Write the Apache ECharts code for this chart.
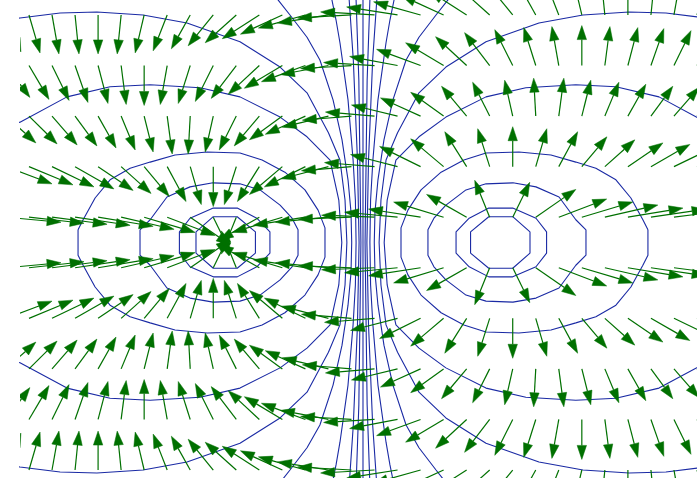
<!DOCTYPE html>
<html>
<head>
<meta charset="utf-8">
<script src="https://cdn.jsdelivr.net/npm/echarts@6/dist/echarts.min.js"></script>
<style>
  html, body { margin: 0; padding: 0; background: #ffffff; }
  #chart { width: 697px; height: 478px; }
</style>
</head>
<body>
<div id="chart"></div>
<script>
// Sample grid of the field (x: columns, y: rows)
const colX = [-15.5,-14.5,-13.5,-12.5,-11.5,-10.5,-9.5,-8.5,-7.5,-6.5,-5.5,-4.5,-3.5,-2.5,-1.5,-0.5,
              0.5,1.5,2.5,3.5,4.5,5.5,6.5,7.5,8.5,9.5,10.5,11.5,12.5,13.5,14.5];
const rowY = [4.5, 3.5, 2.5, 1.5, 0.5, -0.5, -1.5, -2.5, -3.5, -4.5];

// Field vector components per row (u along x, v along y)
const u45 = [0.65,0.48,0.30,0.17,0,-0.17,-0.39,-0.61,-0.82,-1.09,-1.35,-1.61,-1.82,-2.04,-2.21,-2.34,-2.34,-2.21,-2.04,-1.82,-1.61,-1.35,-1.09,-0.82,-0.61,-0.39,-0.17,0,0.17,0.30,0.48];
const v45 = [-0.73,-0.75,-0.77,-0.77,-0.77,-0.77,-0.75,-0.71,-0.67,-0.61,-0.55,-0.47,-0.38,-0.26,-0.16,-0.06,0.06,0.16,0.26,0.38,0.47,0.55,0.61,0.67,0.71,0.75,0.77,0.77,0.77,0.77,0.75];
const u35 = [1.04,0.87,0.74,0.56,0.43,0.22,0,-0.30,-0.52,-0.78,-1.09,-1.35,-1.65,-1.91,-2.08,-2.21,-2.21,-2.08,-1.91,-1.65,-1.35,-1.09,-0.78,-0.52,-0.30,0,0.22,0.43,0.56,0.74,0.87];
const v35 = [-0.63,-0.67,-0.69,-0.73,-0.75,-0.77,-0.79,-0.77,-0.75,-0.71,-0.65,-0.57,-0.45,-0.32,-0.18,-0.06,0.06,0.18,0.32,0.45,0.57,0.65,0.71,0.75,0.77,0.79,0.77,0.75,0.73,0.69,0.67];
const u25 = [1.30,1.22,1.09,0.95,0.78,0.61,0.39,0.22,-0.09,-0.35,-0.74,-1.09,-1.43,-1.74,-2.00,-2.13,-2.13,-2.00,-1.74,-1.43,-1.09,-0.74,-0.35,-0.09,0.22,0.39,0.61,0.78,0.95,1.09,1.22];
const v25 = [-0.53,-0.55,-0.57,-0.59,-0.63,-0.67,-0.71,-0.75,-0.75,-0.71,-0.67,-0.59,-0.47,-0.36,-0.22,-0.08,0.08,0.22,0.36,0.47,0.59,0.67,0.71,0.75,0.75,0.71,0.67,0.63,0.59,0.57,0.55];
const u15 = [2.00,1.91,1.82,1.69,1.52,1.30,1.09,0.82,0.48,0,-0.52,-0.95,-1.43,-1.78,-2.04,-2.17,-2.17,-2.04,-1.78,-1.43,-0.95,-0.52,0,0.48,0.82,1.09,1.30,1.52,1.69,1.82,1.91];
const v15 = [-0.34,-0.36,-0.40,-0.44,-0.47,-0.53,-0.59,-0.69,-0.75,-0.79,-0.75,-0.69,-0.55,-0.40,-0.24,-0.08,0.08,0.24,0.40,0.55,0.69,0.75,0.79,0.75,0.69,0.59,0.53,0.47,0.44,0.40,0.36];
const u05 = [2.39,2.39,2.39,2.39,2.39,2.30,2.21,2.08,1.74,0.74,-0.65,-1.74,-2.17,-2.26,-2.30,-2.30,-2.30,-2.30,-2.26,-2.17,-1.74,-0.65,0.74,1.74,2.08,2.21,2.30,2.39,2.39,2.39,2.39];
const v05 = [-0.10,-0.12,-0.14,-0.16,-0.18,-0.24,-0.30,-0.36,-0.55,-0.69,-0.73,-0.45,-0.30,-0.16,-0.10,-0.04,0.04,0.10,0.16,0.30,0.45,0.73,0.69,0.55,0.36,0.30,0.24,0.18,0.16,0.14,0.12];
const um05 = [2.39,2.39,2.39,2.39,2.39,2.30,2.21,2.08,1.74,0.74,-0.65,-1.74,-2.17,-2.26,-2.30,-2.30,-2.30,-2.30,-2.26,-2.17,-1.74,-0.65,0.74,1.74,2.08,2.21,2.30,2.39,2.39,2.39,2.39];
const vm05 = [0.10,0.12,0.14,0.16,0.18,0.24,0.30,0.36,0.55,0.69,0.73,0.45,0.30,0.16,0.10,0.04,-0.04,-0.10,-0.16,-0.30,-0.45,-0.73,-0.69,-0.55,-0.36,-0.30,-0.24,-0.18,-0.16,-0.14,-0.12];
const um15 = [2.00,1.91,1.82,1.69,1.52,1.30,1.09,0.82,0.48,0,-0.52,-0.95,-1.43,-1.78,-2.04,-2.17,-2.17,-2.04,-1.78,-1.43,-0.95,-0.52,0,0.48,0.82,1.09,1.30,1.52,1.69,1.82,1.91];
const vm15 = [0.34,0.36,0.40,0.44,0.47,0.53,0.59,0.69,0.75,0.79,0.75,0.69,0.55,0.40,0.24,0.08,-0.08,-0.24,-0.40,-0.55,-0.69,-0.75,-0.79,-0.75,-0.69,-0.59,-0.53,-0.47,-0.44,-0.40,-0.36];
const um25 = [1.30,1.22,1.09,0.95,0.78,0.61,0.39,0.22,-0.09,-0.35,-0.74,-1.09,-1.43,-1.74,-2.00,-2.13,-2.13,-2.00,-1.74,-1.43,-1.09,-0.74,-0.35,-0.09,0.22,0.39,0.61,0.78,0.95,1.09,1.22];
const vm25 = [0.53,0.55,0.57,0.59,0.63,0.67,0.71,0.75,0.75,0.71,0.67,0.59,0.47,0.36,0.22,0.08,-0.08,-0.22,-0.36,-0.47,-0.59,-0.67,-0.71,-0.75,-0.75,-0.71,-0.67,-0.63,-0.59,-0.57,-0.55];
const um35 = [1.04,0.87,0.74,0.56,0.43,0.22,0,-0.30,-0.52,-0.78,-1.09,-1.35,-1.65,-1.91,-2.08,-2.21,-2.21,-2.08,-1.91,-1.65,-1.35,-1.09,-0.78,-0.52,-0.30,0,0.22,0.43,0.56,0.74,0.87];
const vm35 = [0.63,0.67,0.69,0.73,0.75,0.77,0.79,0.77,0.75,0.71,0.65,0.57,0.45,0.32,0.18,0.06,-0.06,-0.18,-0.32,-0.45,-0.57,-0.65,-0.71,-0.75,-0.77,-0.79,-0.77,-0.75,-0.73,-0.69,-0.67];
const um45 = [0.65,0.48,0.30,0.17,0,-0.17,-0.39,-0.61,-0.82,-1.09,-1.35,-1.61,-1.82,-2.04,-2.21,-2.34,-2.34,-2.21,-2.04,-1.82,-1.61,-1.35,-1.09,-0.82,-0.61,-0.39,-0.17,0,0.17,0.30,0.48];
const vm45 = [0.73,0.75,0.77,0.77,0.77,0.77,0.75,0.71,0.67,0.61,0.55,0.47,0.38,0.26,0.16,0.06,-0.06,-0.16,-0.26,-0.38,-0.47,-0.55,-0.61,-0.67,-0.71,-0.75,-0.77,-0.77,-0.77,-0.77,-0.75];

// Equipotential contours, left charge family
const left1 = [[-7.25,0.21],[-6.5,0.51],[-5.46,0.51],[-4.67,0.21],[-4.67,-0.21],[-5.46,-0.51],[-6.5,-0.51],[-7.25,-0.21],[-7.25,0.21]];
const left2 = [[-7.97,0.21],[-7.51,0.48],[-6.5,0.68],[-5.46,0.68],[-4.61,0.48],[-4.04,0.21],[-4.04,-0.21],[-4.61,-0.48],[-5.46,-0.68],[-6.5,-0.68],[-7.51,-0.48],[-7.97,-0.21],[-7.97,0.21]];
const left3 = [[-9.68,0.25],[-9.24,0.45],[-8.51,0.9],[-7.51,1.1],[-6.51,1.18],[-5.34,1.16],[-4.47,1.04],[-3.6,0.74],[-3.08,0.48],[-2.82,0.25],[-2.82,-0.25],[-3.08,-0.48],[-3.6,-0.74],[-4.47,-1.04],[-5.34,-1.16],[-6.51,-1.18],[-7.51,-1.1],[-8.51,-0.9],[-9.24,-0.45],[-9.68,-0.25],[-9.68,0.25]];
const left4 = [[-12.37,0.25],[-12.15,0.45],[-11.63,0.88],[-10.98,1.24],[-10.11,1.47],[-9.24,1.59],[-8.16,1.73],[-6.77,1.79],[-5.34,1.77],[-4.38,1.63],[-3.39,1.39],[-2.52,1.04],[-1.95,0.64],[-1.65,0.29],[-1.65,-0.29],[-1.95,-0.64],[-2.52,-1.04],[-3.39,-1.39],[-4.38,-1.63],[-5.34,-1.77],[-6.77,-1.79],[-8.16,-1.73],[-9.24,-1.59],[-10.11,-1.47],[-10.98,-1.24],[-11.63,-0.88],[-12.15,-0.45],[-12.37,-0.25],[-12.37,0.25]];
const left5 = [[-15.5,2.3],[-14.89,2.38],[-12.85,2.88],[-10.98,3.08],[-9.24,3.12],[-7.07,3.06],[-5.34,2.88],[-3.6,2.48],[-2.43,2.09],[-1.43,1.63],[-1.05,0.84],[-0.92,0],[-1.05,-0.84],[-1.43,-1.63],[-2.43,-2.09],[-3.6,-2.48],[-5.34,-2.88],[-7.07,-3.06],[-9.24,-3.12],[-10.98,-3.08],[-12.85,-2.88],[-14.89,-2.38],[-15.5,-2.3]];
const left6 = [[-15.5,4.4],[-14.89,4.44],[-13.15,4.54],[-11.55,4.56],[-9.55,4.5],[-7.64,4.34],[-5.34,3.97],[-3.6,3.47],[-2.43,2.96],[-1.5,2.17],[-1.0,1.63],[-0.78,0.84],[-0.7,0],[-0.78,-0.84],[-1.0,-1.63],[-1.5,-2.17],[-2.43,-2.96],[-3.6,-3.47],[-5.34,-3.97],[-7.64,-4.34],[-9.55,-4.5],[-11.55,-4.56],[-13.15,-4.54],[-14.89,-4.44],[-15.5,-4.4]];
const left7 = [[-3.9,5.2],[-3.69,4.8],[-3.17,4.5],[-2.43,4.06],[-1.87,3.61],[-1.3,2.82],[-0.91,2.03],[-0.65,1.24],[-0.52,0.6],[-0.49,0],[-0.52,-0.6],[-0.65,-1.24],[-0.91,-2.03],[-1.3,-2.82],[-1.87,-3.61],[-2.43,-4.06],[-3.17,-4.5],[-3.69,-4.8],[-3.9,-5.2]];
const left8 = [[-1.45,5.2],[-1.35,4.8],[-1.17,4.4],[-1.0,3.95],[-0.65,2.82],[-0.43,1.63],[-0.33,0.84],[-0.3,0],[-0.33,-0.84],[-0.43,-1.63],[-0.65,-2.82],[-1.0,-3.95],[-1.17,-4.4],[-1.35,-4.8],[-1.45,-5.2]];
const left9 = [[-0.65,5.2],[-0.6,4.8],[-0.42,3.61],[-0.24,1.63],[-0.17,0],[-0.24,-1.63],[-0.42,-3.61],[-0.6,-4.8],[-0.65,-5.2]];
const left10 = [[-0.32,5.2],[-0.3,4.8],[-0.18,3.21],[-0.09,0],[-0.18,-3.21],[-0.3,-4.8],[-0.32,-5.2]];
const midline = [[0,5.2],[0,-5.2]];
// Right charge family
const right1 = [[7.25,0.21],[6.5,0.51],[5.46,0.51],[4.67,0.21],[4.67,-0.21],[5.46,-0.51],[6.5,-0.51],[7.25,-0.21],[7.25,0.21]];
const right2 = [[7.97,0.21],[7.51,0.48],[6.5,0.68],[5.46,0.68],[4.61,0.48],[4.04,0.21],[4.04,-0.21],[4.61,-0.48],[5.46,-0.68],[6.5,-0.68],[7.51,-0.48],[7.97,-0.21],[7.97,0.21]];
const right3 = [[9.68,0.25],[9.24,0.45],[8.51,0.9],[7.51,1.1],[6.51,1.18],[5.34,1.16],[4.47,1.04],[3.6,0.74],[3.08,0.48],[2.82,0.25],[2.82,-0.25],[3.08,-0.48],[3.6,-0.74],[4.47,-1.04],[5.34,-1.16],[6.51,-1.18],[7.51,-1.1],[8.51,-0.9],[9.24,-0.45],[9.68,-0.25],[9.68,0.25]];
const right4 = [[12.37,0.25],[12.15,0.45],[11.63,0.88],[10.98,1.24],[10.11,1.47],[9.24,1.59],[8.16,1.73],[6.77,1.79],[5.34,1.77],[4.38,1.63],[3.39,1.39],[2.52,1.04],[1.95,0.64],[1.65,0.29],[1.65,-0.29],[1.95,-0.64],[2.52,-1.04],[3.39,-1.39],[4.38,-1.63],[5.34,-1.77],[6.77,-1.79],[8.16,-1.73],[9.24,-1.59],[10.11,-1.47],[10.98,-1.24],[11.63,-0.88],[12.15,-0.45],[12.37,-0.25],[12.37,0.25]];
const right5 = [[15.5,2.3],[14.89,2.38],[12.85,2.88],[10.98,3.08],[9.24,3.12],[7.07,3.06],[5.34,2.88],[3.6,2.48],[2.43,2.09],[1.43,1.63],[1.05,0.84],[0.92,0],[1.05,-0.84],[1.43,-1.63],[2.43,-2.09],[3.6,-2.48],[5.34,-2.88],[7.07,-3.06],[9.24,-3.12],[10.98,-3.08],[12.85,-2.88],[14.89,-2.38],[15.5,-2.3]];
const right6 = [[15.5,4.4],[14.89,4.44],[13.15,4.54],[11.55,4.56],[9.55,4.5],[7.64,4.34],[5.34,3.97],[3.6,3.47],[2.43,2.96],[1.5,2.17],[1.0,1.63],[0.78,0.84],[0.7,0],[0.78,-0.84],[1.0,-1.63],[1.5,-2.17],[2.43,-2.96],[3.6,-3.47],[5.34,-3.97],[7.64,-4.34],[9.55,-4.5],[11.55,-4.56],[13.15,-4.54],[14.89,-4.44],[15.5,-4.4]];
const right7 = [[3.9,5.2],[3.69,4.8],[3.17,4.5],[2.43,4.06],[1.87,3.61],[1.3,2.82],[0.91,2.03],[0.65,1.24],[0.52,0.6],[0.49,0],[0.52,-0.6],[0.65,-1.24],[0.91,-2.03],[1.3,-2.82],[1.87,-3.61],[2.43,-4.06],[3.17,-4.5],[3.69,-4.8],[3.9,-5.2]];
const right8 = [[1.45,5.2],[1.35,4.8],[1.17,4.4],[1.0,3.95],[0.65,2.82],[0.43,1.63],[0.33,0.84],[0.3,0],[0.33,-0.84],[0.43,-1.63],[0.65,-2.82],[1.0,-3.95],[1.17,-4.4],[1.35,-4.8],[1.45,-5.2]];
const right9 = [[0.65,5.2],[0.6,4.8],[0.42,3.61],[0.24,1.63],[0.17,0],[0.24,-1.63],[0.42,-3.61],[0.6,-4.8],[0.65,-5.2]];
const right10 = [[0.32,5.2],[0.3,4.8],[0.18,3.21],[0.09,0],[0.18,-3.21],[0.3,-4.8],[0.32,-5.2]];

const ARROW_COLOR = '#007000';
const CONTOUR_COLOR = '#1a2aa4';

const rows = [
  [rowY[0], u45, v45], [rowY[1], u35, v35], [rowY[2], u25, v25], [rowY[3], u15, v15], [rowY[4], u05, v05],
  [rowY[5], um05, vm05], [rowY[6], um15, vm15], [rowY[7], um25, vm25], [rowY[8], um35, vm35], [rowY[9], um45, vm45]
];
const arrowData = [];
rows.forEach(function (r) {
  colX.forEach(function (x, i) { arrowData.push([x, r[0], r[1][i], r[2][i]]); });
});

const contours = [left1, left2, left3, left4, left5, left6, left7, left8, left9, left10, midline,
                  right1, right2, right3, right4, right5, right6, right7, right8, right9, right10];

const contourSeries = contours.map(function (pts) {
  return {
    type: 'line', data: pts, symbol: 'none', showSymbol: false, silent: true,
    clip: true, animation: false, z: 2,
    lineStyle: { color: CONTOUR_COLOR, width: 1.1 }
  };
});

// Quiver arrow: shaft from the sample point, filled triangular head at the tip
function renderArrow(params, api) {
  const x = api.value(0), y = api.value(1), u = api.value(2), v = api.value(3);
  const p0 = api.coord([x, y]);
  const p1 = api.coord([x + u, y + v]);
  const dx = p1[0] - p0[0], dy = p1[1] - p0[1];
  const len = Math.sqrt(dx * dx + dy * dy) || 1;
  const ux = dx / len, uy = dy / len;
  const headLen = 14, headHalf = 4.7;
  const bx = p1[0] - ux * headLen, by = p1[1] - uy * headLen;
  return {
    type: 'group',
    children: [
      { type: 'line', shape: { x1: p0[0], y1: p0[1], x2: bx, y2: by },
        style: { stroke: ARROW_COLOR, lineWidth: 1.2 } },
      { type: 'polygon',
        shape: { points: [[p1[0], p1[1]], [bx - uy * headHalf, by + ux * headHalf], [bx + uy * headHalf, by - ux * headHalf]] },
        style: { fill: ARROW_COLOR, stroke: ARROW_COLOR, lineWidth: 0.5 } }
    ]
  };
}

const chart = echarts.init(document.getElementById('chart'), null, { renderer: 'canvas' });
chart.setOption({
  animation: false,
  backgroundColor: '#ffffff',
  grid: { left: 20, right: 0, top: 0, bottom: 0 },
  xAxis: { type: 'value', min: -14.89, max: 14.5, show: false },
  yAxis: { type: 'value', min: -4.658, max: 4.796, show: false },
  series: contourSeries.concat([{
    type: 'custom',
    renderItem: renderArrow,
    data: arrowData,
    encode: { x: 0, y: 1 },
    clip: true,
    silent: true,
    z: 5
  }])
});
</script>
</body>
</html>
